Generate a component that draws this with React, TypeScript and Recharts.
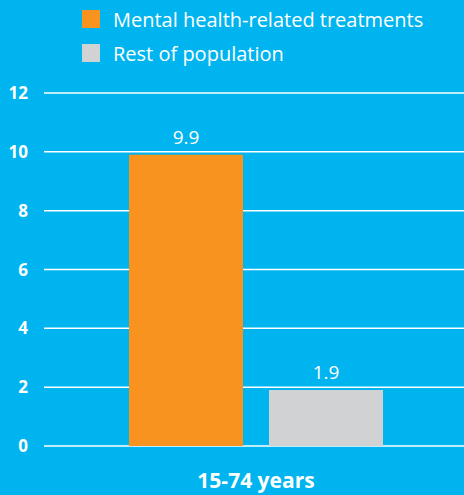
import React from "react";
import {
  BarChart,
  Bar,
  XAxis,
  YAxis,
  CartesianGrid,
  LabelList,
} from "recharts";

const categories = ["15-74 years"];
const mentalHealth = [9.9];
const restOfPopulation = [1.9];
const yTicks = [0, 2, 4, 6, 8, 10, 12];

const BG = "#00B5EF";
const ORANGE = "#F7931E";
const GREY = "#D1D2D4";
const FONT = "'Open Sans', sans-serif";

const data = categories.map((name, i) => ({
  name,
  mental: mentalHealth[i],
  rest: restOfPopulation[i],
}));

const legendItems = [
  { label: "Mental health-related treatments", color: ORANGE },
  { label: "Rest of population", color: GREY },
];

function ChartLegend() {
  return (
    <div style={{ position: "absolute", left: 82, top: 10 }}>
      {legendItems.map((item) => (
        <div
          key={item.label}
          style={{ display: "flex", alignItems: "center", height: 18, marginBottom: 16 }}
        >
          <span
            style={{ width: 18, height: 18, background: item.color, display: "inline-block" }}
          />
          <span
            style={{
              marginLeft: 13,
              color: "#fff",
              fontFamily: FONT,
              fontSize: 20,
              whiteSpace: "nowrap",
            }}
          >
            {item.label}
          </span>
        </div>
      ))}
    </div>
  );
}

export default function App() {
  return (
    <div
      style={{
        position: "absolute",
        left: 0,
        top: 0,
        width: 464,
        height: 495,
        background: BG,
        overflow: "hidden",
      }}
    >
      <BarChart
        width={464}
        height={495}
        data={data}
        margin={{ top: 93, right: -4, bottom: 0, left: 0 }}
        barCategoryGap="20%"
        barGap={26}
      >
        <CartesianGrid vertical={false} stroke="#fff" strokeWidth={1.5} />
        <XAxis
          dataKey="name"
          axisLine={false}
          tickLine={false}
          tickSize={0}
          tickMargin={27}
          height={49}
          tick={{ fill: "#fff", fontSize: 21, fontWeight: 700, fontFamily: FONT }}
        />
        <YAxis
          domain={[0, 12]}
          ticks={yTicks}
          axisLine={false}
          tickLine={false}
          tickSize={0}
          tickMargin={16}
          width={44}
          tick={{ fill: "#fff", fontSize: 17, fontWeight: 700, fontFamily: FONT }}
        />
        <Bar dataKey="mental" fill={ORANGE} barSize={114} isAnimationActive={false}>
          <LabelList
            dataKey="mental"
            position="top"
            offset={11}
            fill="#fff"
            style={{ fontSize: 19, fontFamily: FONT }}
          />
        </Bar>
        <Bar dataKey="rest" fill={GREY} barSize={114} isAnimationActive={false}>
          <LabelList
            dataKey="rest"
            position="top"
            offset={11}
            fill="#fff"
            style={{ fontSize: 19, fontFamily: FONT }}
          />
        </Bar>
      </BarChart>
      <ChartLegend />
    </div>
  );
}
